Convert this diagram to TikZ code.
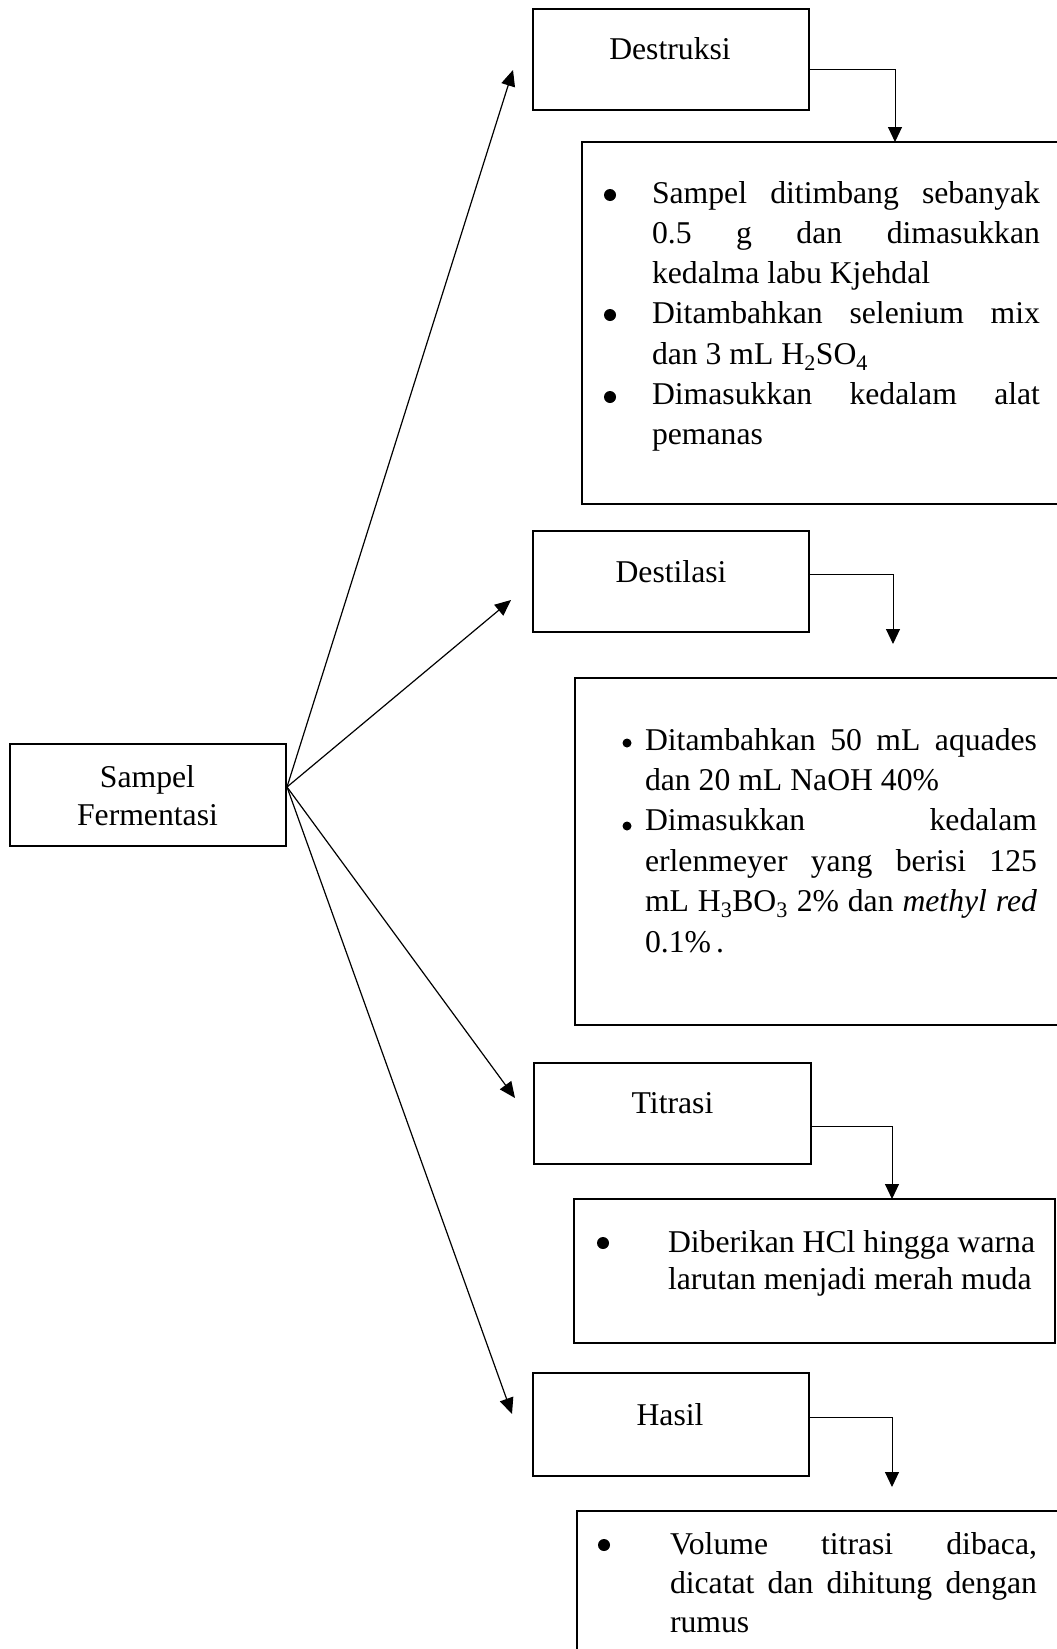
\documentclass[tikz,border=0pt]{standalone}
\usepackage{fontspec}
\setmainfont{Liberation Serif}
\usetikzlibrary{arrows.meta}
\begin{document}
\begin{tikzpicture}[x=1pt,y=-1pt,
  every node/.style={inner sep=0pt, outer sep=0pt},
  stepbox/.style={draw, line width=2.6pt, minimum width=276pt, minimum height=101pt, anchor=north west},
  detbox/.style={draw, line width=2.6pt, anchor=north west},
  lbl/.style={anchor=base, font=\fontsize{31.7}{38}\selectfont},
  txt/.style={anchor=base west},
  dot/.style={circle, fill, minimum size=12pt},
  smalldot/.style={circle, fill, minimum size=9pt},
  link/.style={line width=1.2pt, -{Triangle[length=16pt,width=14pt]}},
  elbow/.style={line width=1pt, -{Triangle[length=15pt,width=14pt]}},
]
\useasboundingbox (0,0) rectangle (1057,1649);
\fill[white] (0,0) rectangle (1057,1649);
\clip (0,0) rectangle (1057,1649);

% left box
\node[stepbox, minimum height=102pt] (samp) at (10,744) {};
\node[anchor=base, font=\fontsize{31.7}{38}\selectfont] (sampT) at (147.5,787)
  {\parbox[t]{220pt}{\centering Sampel\\Fermentasi}};

% step boxes
\node[stepbox] (destr) at (533,9) {};
\node[lbl] (destrT) at (670,59) {Destruksi};
\node[stepbox] (destil) at (533,531) {};
\node[lbl] (destilT) at (671,582) {Destilasi};
\node[stepbox, minimum width=277pt] (titr) at (534,1063) {};
\node[lbl] (titrT) at (672.5,1113) {Titrasi};
\node[stepbox, minimum height=103pt] (hasil) at (533,1373) {};
\node[lbl] (hasilT) at (670,1425) {Hasil};

% detail boxes
\node[detbox, minimum width=482pt, minimum height=362pt] (det1) at (582,142) {};
\node[detbox, minimum width=489pt, minimum height=347pt] (det2) at (575,678) {};
\node[detbox, minimum width=481pt, minimum height=144pt] (det3) at (574,1199) {};
\node[detbox, minimum width=487pt, minimum height=200pt] (det4) at (577,1511) {};

% detail texts
\node[txt] (txt1) at (652,203) {\fontsize{31.7}{40.3}\selectfont\parbox[t]{388pt}{%
\makebox[\linewidth][s]{Sampel ditimbang sebanyak}\\
\makebox[\linewidth][s]{0.5 g dan dimasukkan}\\
kedalma labu Kjehdal\\
\makebox[\linewidth][s]{Ditambahkan selenium mix}\\
dan 3 mL H\textsubscript{2}SO\textsubscript{4}\\
\makebox[\linewidth][s]{Dimasukkan kedalam alat}\\
pemanas}};
\node[dot] (b11) at (610,195) {};
\node[dot] (b12) at (610,315) {};
\node[dot] (b13) at (610,397) {};

\node[txt] (txt2) at (645,750) {\fontsize{31.7}{40.4}\selectfont\parbox[t]{392pt}{%
\makebox[\linewidth][s]{Ditambahkan 50 mL aquades}\\
dan 20 mL NaOH 40\%\\
\makebox[\linewidth][s]{Dimasukkan kedalam}\\
\makebox[\linewidth][s]{erlenmeyer yang berisi 125}\\
\makebox[\linewidth][s]{mL H\textsubscript{3}BO\textsubscript{3} 2\% dan \textit{methyl red}}\\
0.1\%\hspace{5pt}.}};
\node[smalldot] (b21) at (627,743) {};
\node[smalldot] (b22) at (627,826) {};

\node[txt] (txt3) at (668,1252) {\fontsize{31.7}{37}\selectfont\parbox[t]{370pt}{%
Diberikan HCl hingga warna\\
larutan menjadi merah muda}};
\node[dot] (b31) at (603,1243) {};

\node[txt] (txt4) at (670,1554) {\fontsize{31.7}{39}\selectfont\parbox[t]{367pt}{%
\makebox[\linewidth][s]{Volume titrasi dibaca,}\\
\makebox[\linewidth][s]{dicatat dan dihitung dengan}\\
rumus}};
\node[dot] (b41) at (604,1545) {};

% fan of arrows
\coordinate (apex) at (287,787);
\coordinate (tip1) at (513,70);
\coordinate (tip2) at (511,600);
\coordinate (tip3) at (515,1098);
\coordinate (tip4) at (512,1414);
\draw[link] (apex) -- (tip1);
\draw[link] (apex) -- (tip2);
\draw[link] (apex) -- (tip3);
\draw[link] (apex) -- (tip4);

% elbow connectors
\coordinate (e1) at (895,69);
\draw[elbow] (destr.east |- e1) -- (e1) -- (det1.north -| e1);
\coordinate (e2) at (893,574);
\coordinate (f2) at (893,644);
\draw[elbow] (destil.east |- e2) -- (e2) -- (f2);
\coordinate (e3) at (892,1126);
\draw[elbow] (titr.east |- e3) -- (e3) -- (det3.north -| e3);
\coordinate (e4) at (892,1417);
\coordinate (f4) at (892,1487);
\draw[elbow] (hasil.east |- e4) -- (e4) -- (f4);
\end{tikzpicture}
\end{document}
